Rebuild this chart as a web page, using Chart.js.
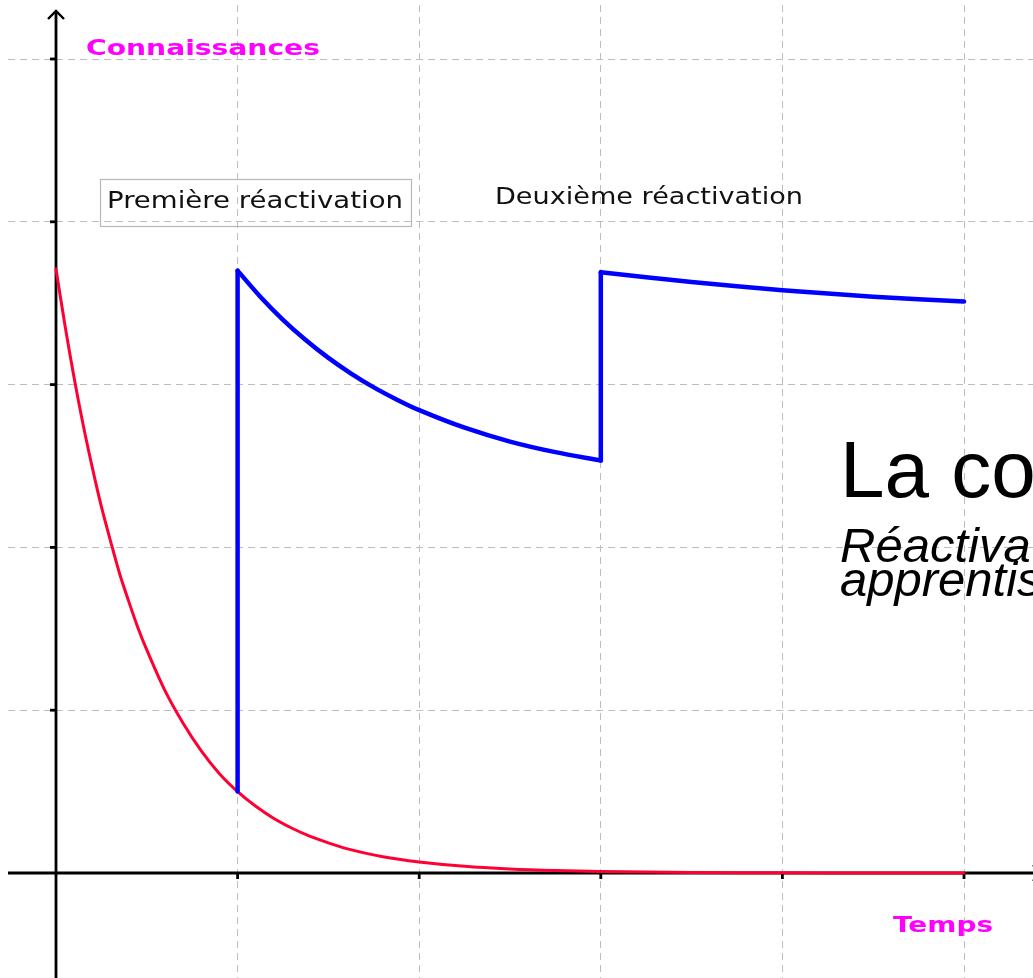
<!DOCTYPE html>
<html><head><meta charset="utf-8">
<script src="https://cdn.jsdelivr.net/npm/chart.js@4"></script>
<style>html,body{margin:0;padding:0;background:#fff;overflow:hidden}canvas{display:block}</style>
</head><body><canvas id="c" width="1033" height="978"></canvas>
<script>
// ---- data ----
const gridX = [0, 1, 2, 3, 4, 5];
const gridY = [0, 1, 2, 3, 4, 5];

const redX = [0, 0.05, 0.1, 0.15, 0.2, 0.25, 0.3, 0.35, 0.4, 0.45, 0.5, 0.6, 0.7, 0.8, 0.9, 1, 1.1, 1.2, 1.3, 1.4, 1.5, 1.6, 1.8, 2, 2.25, 2.5, 2.75, 3, 3.5, 4, 4.5, 5];
const redY = [3.71, 3.36, 3.04, 2.75, 2.49, 2.25, 2.04, 1.84, 1.67, 1.51, 1.37, 1.12, 0.92, 0.75, 0.61, 0.50, 0.41, 0.335, 0.275, 0.225, 0.185, 0.15, 0.10, 0.068, 0.041, 0.025, 0.015, 0.009, 0.003, 0.001, 0.0005, 0.0002];

const jump1X = [1, 1];
const jump1Y = [0.50, 3.70];
const decay1X = [1, 1.125, 1.25, 1.375, 1.5, 1.625, 1.75, 1.875, 2, 2.25, 2.5, 2.75, 3];
const decay1Y = [3.70, 3.54, 3.398, 3.274, 3.164, 3.068, 2.983, 2.909, 2.843, 2.735, 2.65, 2.585, 2.534];
const jump2X = [3, 3];
const jump2Y = [2.534, 3.69];
const decay2X = [3, 3.5, 4, 4.5, 5];
const decay2Y = [3.69, 3.63, 3.58, 3.54, 3.51];

const yAxisLabel = 'Connaissances';
const xAxisLabel = 'Temps';
const note1 = 'Première réactivation';
const note2 = 'Deuxième réactivation';
const titleText = 'La courbe de l\u2019oubli';
const subLines = ['Réactivation des', 'apprentissages'];

const pts = (xs, ys) => xs.map((v, i) => ({x: v, y: ys[i]}));

const RED = '#ff0033', BLUE = '#0000ff';

function stretched(ctx, text, left, baseline, width, font, color) {
  ctx.save();
  ctx.font = font; ctx.fillStyle = color;
  ctx.textAlign = 'left'; ctx.textBaseline = 'alphabetic';
  const w = ctx.measureText(text).width;
  ctx.translate(left, baseline);
  ctx.scale(width / w, 1);
  ctx.fillText(text, 0, 0);
  ctx.restore();
}

const axesPlugin = {
  id: 'axesPlugin',
  beforeDatasetsDraw(chart) {
    const {ctx, scales: {x, y}} = chart;
    const x0 = x.getPixelForValue(0), y0 = y.getPixelForValue(0);
    ctx.save();
    ctx.strokeStyle = '#000';
    ctx.lineWidth = 2.8;
    ctx.lineCap = 'butt';
    ctx.beginPath(); ctx.moveTo(chart.chartArea.left, y0); ctx.lineTo(chart.width + 10, y0); ctx.stroke();
    ctx.beginPath(); ctx.moveTo(x0, chart.height); ctx.lineTo(x0, 11); ctx.stroke();
    ctx.lineWidth = 2.4;
    ctx.beginPath(); ctx.moveTo(x0 - 8, 19); ctx.lineTo(x0, 11); ctx.lineTo(x0 + 8, 19); ctx.stroke();
    ctx.beginPath(); ctx.moveTo(1033, y0 - 8); ctx.lineTo(1041, y0); ctx.lineTo(1033, y0 + 8); ctx.stroke();
    ctx.lineWidth = 2.8;
    gridX.forEach(v => { if (v === 0) return; const px = x.getPixelForValue(v);
      ctx.beginPath(); ctx.moveTo(px, y0); ctx.lineTo(px, y0 + 6); ctx.stroke(); });
    gridY.forEach(v => { if (v === 0) return; const py = y.getPixelForValue(v);
      ctx.beginPath(); ctx.moveTo(x0, py); ctx.lineTo(x0 - 6, py); ctx.stroke(); });
    ctx.restore();
  },
  afterDatasetsDraw(chart) {
    const ctx = chart.ctx;
    ctx.save();
    ctx.strokeStyle = '#b8b8b8'; ctx.lineWidth = 1.2;
    ctx.strokeRect(100.5, 179.5, 311, 47);
    ctx.restore();
    stretched(ctx, note1, 107, 208, 296, '23px "DejaVu Sans"', '#111');
    stretched(ctx, note2, 495, 204, 308, '23px "DejaVu Sans"', '#111');
    stretched(ctx, yAxisLabel, 86, 55, 234, 'bold 22px "DejaVu Sans"', '#ff00ff');
    stretched(ctx, xAxisLabel, 893, 932, 100, 'bold 22px "DejaVu Sans"', '#ff00ff');
  },
  afterDraw(chart) {
    const ctx = chart.ctx;
    ctx.save();
    ctx.fillStyle = '#000';
    ctx.textAlign = 'left'; ctx.textBaseline = 'alphabetic';
    ctx.font = '80px "Liberation Sans"';
    ctx.fillText(titleText, 840, 497);
    ctx.font = 'italic 49px "Liberation Sans"';
    ctx.fillText(subLines[0], 840, 562);
    ctx.fillText(subLines[1], 840, 596);
    ctx.restore();
  }
};

const lineDs = (data, color, width, tension) => ({
  data, borderColor: color, borderWidth: width, pointRadius: 0, showLine: true,
  fill: false, tension: tension,
  borderCapStyle: 'round', borderJoinStyle: 'round'
});

new Chart(document.getElementById('c'), {
  type: 'scatter',
  data: {
    datasets: [
      lineDs(pts(jump1X, jump1Y), BLUE, 4.5, 0),
      lineDs(pts(decay1X, decay1Y), BLUE, 4.5, 0.3),
      lineDs(pts(jump2X, jump2Y), BLUE, 4.5, 0),
      lineDs(pts(decay2X, decay2Y), BLUE, 4.5, 0.3),
      lineDs(pts(redX, redY), RED, 3, 0.3)
    ]
  },
  options: {
    responsive: false,
    animation: false,
    devicePixelRatio: 1,
    layout: {padding: {left: 8, top: 5, right: 0, bottom: 0}, autoPadding: false},
    plugins: {legend: {display: false}, tooltip: {enabled: false}, title: {display: false}},
    scales: {
      x: {
        type: 'linear', min: -0.26432, max: 5.37995,
        afterBuildTicks: s => { s.ticks = gridX.map(v => ({value: v})); },
        ticks: {display: false},
        grid: {drawTicks: false, lineWidth: 1,
          color: c => (c.tick && c.tick.value === 0) ? 'rgba(0,0,0,0)' : '#bdbdbd'},
        border: {display: false, dash: [7, 5]}
      },
      y: {
        type: 'linear', min: -0.64496, max: 5.3317,
        afterBuildTicks: s => { s.ticks = gridY.map(v => ({value: v})); },
        ticks: {display: false},
        grid: {drawTicks: false, lineWidth: 1,
          color: c => (c.tick && c.tick.value === 0) ? 'rgba(0,0,0,0)' : '#bdbdbd'},
        border: {display: false, dash: [7, 5]}
      }
    }
  },
  plugins: [axesPlugin]
});
</script>
</body></html>
